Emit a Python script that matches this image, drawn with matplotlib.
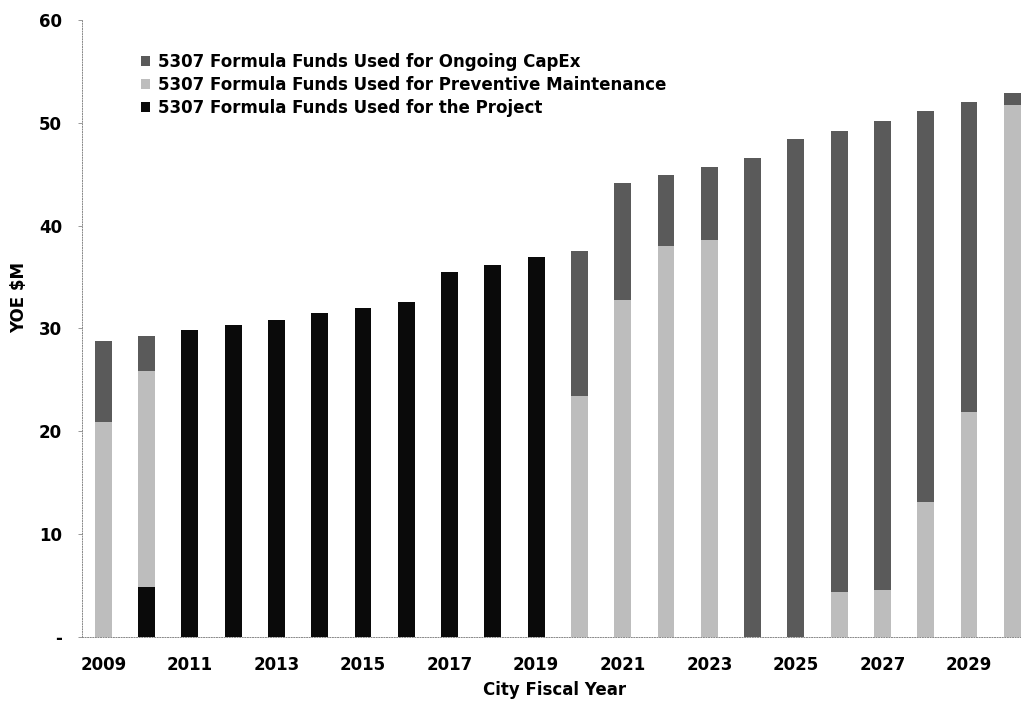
import matplotlib.pyplot as plt
import numpy as np

years = np.arange(2009, 2031)
project = [0, 4.9, 29.8, 30.35, 30.8, 31.5, 32.0, 32.6, 35.5, 36.2, 36.9,
           0, 0, 0, 0, 0, 0, 0, 0, 0, 0, 0]
prev_maint = [20.9, 21.0, 0, 0, 0, 0, 0, 0, 0, 0, 0,
              23.4, 32.8, 38.0, 38.6, 0, 0, 4.4, 4.6, 13.1, 21.9, 51.7]
capex = [7.9, 3.4, 0, 0, 0, 0, 0, 0, 0, 0, 0,
         14.1, 11.3, 6.9, 7.1, 46.6, 48.4, 44.8, 45.6, 38.0, 30.1, 1.2]

labels = ['5307 Formula Funds Used for the Project',
          '5307 Formula Funds Used for Preventive Maintenance',
          '5307 Formula Funds Used for Ongoing CapEx']
colors = ['#0a0a0a', '#bdbdbd', '#5a5a5a']

plt.rcParams['font.family'] = 'DejaVu Sans'
plt.rcParams['font.weight'] = 'bold'

fig = plt.figure(figsize=(10.21, 7.03), dpi=100)
ax = fig.add_axes([0.080, 0.094, 0.920, 0.8776])

project = np.array(project)
prev_maint = np.array(prev_maint)
capex = np.array(capex)
w = 0.39
b1 = ax.bar(years, project, w, color=colors[0], label=labels[0])
b2 = ax.bar(years, prev_maint, w, bottom=project, color=colors[1], label=labels[1])
b3 = ax.bar(years, capex, w, bottom=project + prev_maint, color=colors[2], label=labels[2])

ax.set_xlim(2008.5, 2030.2)
ax.set_ylim(0, 60)
ax.set_yticks(range(0, 61, 10))
ax.set_yticklabels(['-'] + [str(v) for v in range(10, 61, 10)], fontsize=12, fontweight='bold')
ax.set_xticks(years[::2])
ax.set_xticklabels([str(y) for y in years[::2]], fontsize=12, fontweight='bold')
ax.tick_params(axis='y', length=3, width=0.6, color='#888888', pad=11)
ax.tick_params(axis='x', length=0, pad=14)

for s in ['top', 'right']:
    ax.spines[s].set_visible(False)
for s in ['left', 'bottom']:
    ax.spines[s].set_color('#888888')
    ax.spines[s].set_linewidth(0.7)
    ax.spines[s].set_linestyle(':')

ax.set_ylabel('YOE $M', fontsize=12, fontweight='bold')
ax.yaxis.set_label_coords(-0.057, 0.55)
ax.set_xlabel('City Fiscal Year', fontsize=12, fontweight='bold')
ax.xaxis.set_label_coords(0.503, -0.072)

leg = ax.legend([b3, b2, b1], [labels[2], labels[1], labels[0]],
                loc='upper left', bbox_to_anchor=(0.130, 0.937),
                bbox_transform=fig.transFigure, frameon=False,
                fontsize=12, handlelength=0.55, handleheight=0.55,
                handletextpad=0.45, labelspacing=0.3, borderpad=0)
for t in leg.get_texts():
    t.set_fontweight('bold')

fig.savefig('out.png', dpi=100)
